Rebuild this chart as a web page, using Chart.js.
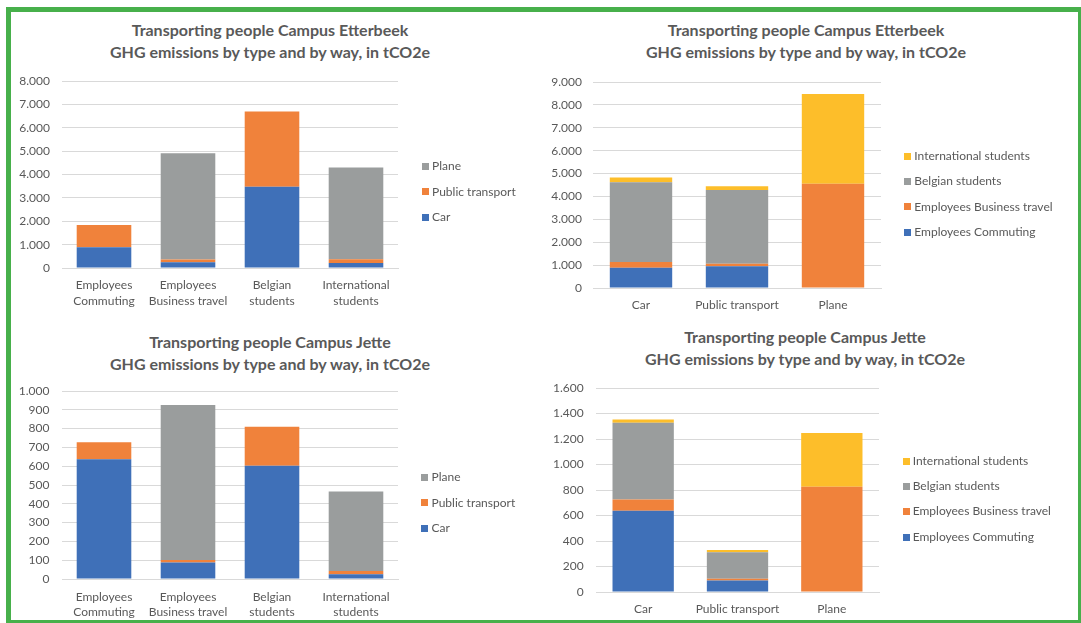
<!DOCTYPE html>
<html>
<head>
<meta charset="utf-8">
<script src="https://cdn.jsdelivr.net/npm/chart.js@4.4.0/dist/chart.umd.min.js"></script>
<style>
  html, body { margin: 0; padding: 0; background: #fff; overflow: hidden; }
  body { width: 1081px; height: 623px; position: relative; font-family: Lato, "Open Sans", sans-serif; }
  .frame { position: absolute; left: 6px; top: 7px; width: 1077px; height: 618px; border: 5px solid #47b04b; box-sizing: border-box; z-index: 10; pointer-events: none; }
  .box { position: absolute; }
  .title { position: absolute; width: 500px; margin-left: -250px; text-align: center; font-weight: bold; font-size: 16px; color: #595959; line-height: 22px; white-space: nowrap; }
  .legend { position: absolute; font-size: 12px; color: #595959; }
  .legend div { position: absolute; white-space: nowrap; line-height: 14px; height: 14px; }
  .legend span { position: absolute; top: 3.5px; width: 7px; height: 7px; }
</style>
</head>
<body>
<div class="frame"></div>

<div class="title" style="left:270px; top:19px">Transporting people Campus Etterbeek<br>GHG emissions by type and by way, in tCO2e</div>
<div class="title" style="left:806px; top:19px">Transporting people Campus Etterbeek<br>GHG emissions by type and by way, in tCO2e</div>
<div class="title" style="left:270px; top:331px">Transporting people Campus Jette<br>GHG emissions by type and by way, in tCO2e</div>
<div class="title" style="left:805px; top:326px">Transporting people Campus Jette<br>GHG emissions by type and by way, in tCO2e</div>

<div class="box" id="b1"><canvas id="c1"></canvas></div>
<div class="box" id="b2"><canvas id="c2"></canvas></div>
<div class="box" id="b3"><canvas id="c3"></canvas></div>
<div class="box" id="b4"><canvas id="c4"></canvas></div>

<div class="legend" id="l1"></div>
<div class="legend" id="l2"></div>
<div class="legend" id="l3"></div>
<div class="legend" id="l4"></div>

<script>
// categories
const typeLabels = [['Employees', 'Commuting'], ['Employees', 'Business travel'], ['Belgian', 'students'], ['International', 'students']];
const typeNames = ['Employees Commuting', 'Employees Business travel', 'Belgian students', 'International students'];
const wayLabels = ['Car', 'Public transport', 'Plane'];

// Campus Etterbeek, tCO2e per type (one array per way)
const etterbeekCar = [890, 250, 3480, 210];
const etterbeekPublic = [950, 110, 3220, 160];
const etterbeekPlane = [0, 4550, 0, 3930];

// Campus Jette
const jetteCar = [637, 88, 602, 25];
const jettePublic = [90, 13, 208, 18];
const jettePlane = [0, 825, 0, 422];

const wayColors = ['#3f70b8', '#f0823b', '#9a9d9d'];
const typeColors = ['#3f70b8', '#f0823b', '#9a9d9d', '#fdbe2a'];

Chart.defaults.font.family = 'Lato, "Open Sans", sans-serif';
Chart.defaults.font.size = 12;
Chart.defaults.color = '#595959';

const fmt = v => String(v).replace(/\B(?=(\d{3})+(?!\d))/g, '.');

function byWay(car, pub, plane) {
  return [car, pub, plane].map((d, i) => ({
    label: wayLabels[i], data: d, backgroundColor: wayColors[i]
  }));
}

function byType(car, pub, plane) {
  return typeNames.map((name, i) => ({
    label: name, data: [car[i], pub[i], plane[i]], backgroundColor: typeColors[i]
  }));
}

function makeLegend(id, datasets, pos) {
  const el = document.getElementById(id);
  el.style.left = pos.x + 'px';
  el.style.top = '0px';
  datasets.slice().reverse().forEach((ds, i) => {
    const row = document.createElement('div');
    row.style.left = '0px';
    row.style.top = (pos.y[i] - 7) + 'px';
    row.innerHTML = '<span style="left:0;background:' + ds.backgroundColor + '"></span>' +
      '<i style="font-style:normal;position:absolute;left:' + pos.gap + 'px">' + ds.label + '</i>';
    el.appendChild(row);
  });
}

function makeChart(n, labels, datasets, yMax, yStep, box, area, yPad, xPad) {
  const wrap = document.getElementById('b' + n);
  wrap.style.left = box.left + 'px';
  wrap.style.top = box.top + 'px';
  wrap.style.width = box.width + 'px';
  wrap.style.height = box.height + 'px';

  new Chart(document.getElementById('c' + n), {
    type: 'bar',
    data: { labels: labels, datasets: datasets },
    options: {
      responsive: true,
      maintainAspectRatio: false,
      animation: false,
      layout: {
        padding: {
          left: 0,
          top: area.top - box.top,
          right: box.left + box.width - area.right,
          bottom: 0
        }
      },
      plugins: { legend: { display: false }, title: { display: false }, tooltip: { enabled: false } },
      datasets: { bar: { barPercentage: 0.65, categoryPercentage: 1 } },
      scales: {
        x: {
          stacked: true,
          grid: { display: false, drawTicks: false },
          border: { display: true, color: '#d9d9d9' },
          ticks: { padding: xPad, maxRotation: 0, autoSkip: false, font: { size: 12, lineHeight: 1.29 } },
          afterFit: s => { s.height = box.top + box.height - area.bottom; }
        },
        y: {
          stacked: true,
          min: 0,
          max: yMax,
          grid: { color: '#d9d9d9', drawTicks: false },
          border: { display: false },
          ticks: { stepSize: yStep, padding: yPad, callback: v => fmt(v), font: { size: 12 } },
          afterFit: s => { s.width = area.left - box.left; }
        }
      }
    }
  });
}

const ds1 = byWay(etterbeekCar, etterbeekPublic, etterbeekPlane);
const ds2 = byType(etterbeekCar, etterbeekPublic, etterbeekPlane);
const ds3 = byWay(jetteCar, jettePublic, jettePlane);
const ds4 = byType(jetteCar, jettePublic, jettePlane);

makeChart(1, typeLabels, ds1, 8000, 1000,
  { left: 11, top: 12, width: 529, height: 305 }, { left: 62, right: 398, top: 81, bottom: 268 }, 12, 9.5);
makeChart(2, wayLabels, ds2, 9000, 1000,
  { left: 540, top: 12, width: 541, height: 305 }, { left: 593, right: 881, top: 82, bottom: 288 }, 11, 9.2);
makeChart(3, typeLabels, ds3, 1000, 100,
  { left: 11, top: 318, width: 529, height: 305 }, { left: 62, right: 398, top: 391, bottom: 579 }, 12.5, 10);
makeChart(4, wayLabels, ds4, 1600, 200,
  { left: 540, top: 318, width: 541, height: 305 }, { left: 596, right: 879, top: 388, bottom: 592 }, 12.3, 9);

makeLegend('l1', ds1, { x: 421.5, gap: 10.5, y: [166, 191.7, 217] });
makeLegend('l2', ds2, { x: 904, gap: 10.3, y: [156, 181, 206.7, 232.3] });
makeLegend('l3', ds3, { x: 421, gap: 10.5, y: [477.3, 502.7, 528.3] });
makeLegend('l4', ds4, { x: 902.5, gap: 10.2, y: [461, 486, 511.3, 537] });
</script>
</body>
</html>
